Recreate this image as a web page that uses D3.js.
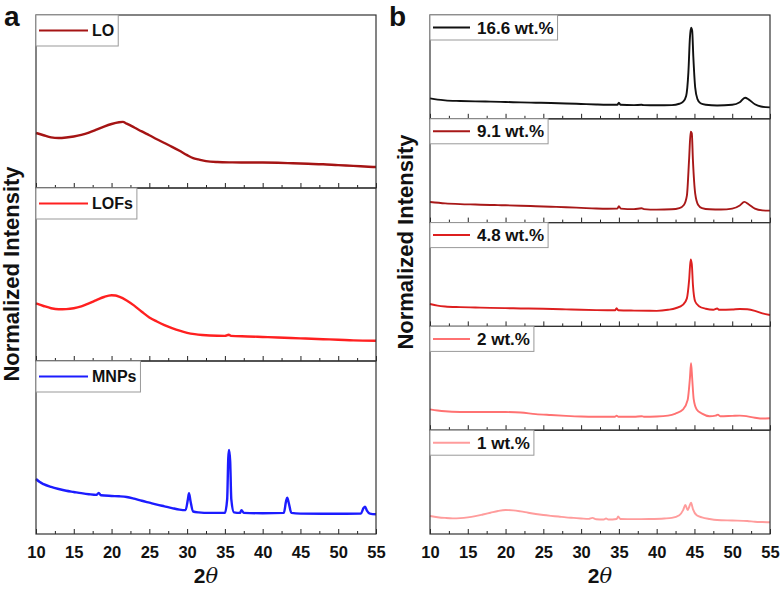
<!DOCTYPE html>
<html>
<head>
<meta charset="utf-8">
<script src="https://cdn.jsdelivr.net/npm/d3@7"></script>
<style>
  body { margin: 0; background: #fff; }
  text { font-family: "Liberation Sans", Arial, sans-serif; font-weight: bold; fill: #111; }
</style>
</head>
<body>
<svg id="chart" width="783" height="589"></svg>
<script>
// x ticks (2 theta)
var majorTicks = [10, 15, 20, 25, 30, 35, 40, 45, 50, 55];
var minorTicks = [12.5, 17.5, 22.5, 27.5, 32.5, 37.5, 42.5, 47.5, 52.5];

// ---- panel a ----
var tt_LO = [10,11,12,13,14,15,16,17,18,19,20,21,21.5,22,23,24,25,26,27,28,29,30,30.8,31.5,32.5,34,36,38,40,42,44,46,48,50,52,54,55];
var int_LO = [0.318,0.305,0.293,0.289,0.292,0.298,0.307,0.320,0.337,0.355,0.370,0.380,0.382,0.372,0.350,0.327,0.305,0.282,0.260,0.238,0.215,0.190,0.173,0.165,0.155,0.150,0.148,0.147,0.147,0.146,0.143,0.140,0.137,0.132,0.128,0.123,0.121];

var tt_LOFs = [10,11,12,13,14,15,16,17,18,19,20,20.5,21,22,23,24,25,26,27,28,29,30,31,32,33,35,35.5,35.8,38,40,42,45,48,50,52,55];
var int_LOFs = [0.333,0.318,0.305,0.299,0.300,0.305,0.316,0.333,0.352,0.370,0.380,0.379,0.372,0.350,0.320,0.285,0.252,0.228,0.207,0.190,0.175,0.163,0.155,0.150,0.147,0.145,0.152,0.145,0.142,0.139,0.136,0.131,0.126,0.123,0.119,0.117];

var tt_MNPs = [10,10.5,11,12,13,14,15,16,17,18,18.3,18.6,20,21,22,23,24,25,26,27,28,29,29.8,30.1,30.25,30.45,30.8,31.5,33,35,35.3,35.45,35.55,35.7,35.85,36.2,37,37.2,37.5,40,42.8,43.1,43.25,43.45,43.8,45,48,50,53,53.35,53.55,53.8,54.2,55];
var int_MNPs = [0.318,0.300,0.288,0.272,0.260,0.250,0.243,0.236,0.230,0.226,0.238,0.224,0.220,0.218,0.214,0.204,0.192,0.181,0.170,0.160,0.150,0.141,0.138,0.200,0.236,0.190,0.130,0.125,0.122,0.122,0.200,0.440,0.486,0.420,0.200,0.125,0.122,0.138,0.122,0.120,0.122,0.190,0.210,0.180,0.122,0.118,0.117,0.117,0.118,0.150,0.158,0.135,0.118,0.114];

// ---- panel b ----
var tt_w166 = [10,11,12,14,16,18,20,22,24,26,28,30,32,33.5,34.8,35,35.2,37,38,38.3,40,42,43,43.5,43.9,44.2,44.4,44.55,44.7,44.85,45.1,45.4,45.8,46.5,48,50,51,51.7,52.2,53,53.8,55];
var int_w166 = [0.197,0.185,0.178,0.172,0.168,0.165,0.162,0.158,0.155,0.152,0.148,0.143,0.138,0.136,0.136,0.155,0.136,0.132,0.135,0.132,0.130,0.132,0.145,0.165,0.220,0.450,0.780,0.878,0.850,0.600,0.300,0.190,0.150,0.135,0.128,0.135,0.160,0.203,0.185,0.140,0.118,0.110];

var tt_w91 = [10,12,14,16,18,20,22,24,26,28,30,32,33.5,34.8,35,35.25,37,38,38.3,40,42,43,43.6,44,44.3,44.5,44.65,44.8,45.1,45.5,46,47,48.5,50,51,51.6,52.2,53,54,55];
var int_w91 = [0.198,0.185,0.178,0.174,0.170,0.167,0.163,0.158,0.153,0.148,0.142,0.136,0.134,0.135,0.158,0.135,0.130,0.138,0.130,0.125,0.128,0.140,0.170,0.260,0.620,0.876,0.860,0.600,0.280,0.170,0.140,0.128,0.126,0.135,0.165,0.200,0.175,0.135,0.118,0.115];

var tt_w48 = [10,11,12,14,16,18,20,22,25,28,30,32,34.5,34.7,34.9,37,40,41.5,42.5,43.5,44,44.3,44.5,44.65,44.8,45.1,45.6,46.5,47.5,48,48.3,50,51,52,53,54,55];
var int_w48 = [0.216,0.200,0.192,0.186,0.182,0.178,0.176,0.173,0.170,0.164,0.160,0.157,0.155,0.175,0.156,0.152,0.150,0.160,0.175,0.210,0.270,0.450,0.646,0.600,0.400,0.240,0.195,0.170,0.160,0.172,0.160,0.163,0.168,0.165,0.150,0.125,0.110];

var tt_w2 = [10,11,12,14,16,18,20,22,24,26,28,30,32,34.5,34.7,34.9,37,38,38.3,40,41.5,42.5,43.5,44.1,44.4,44.55,44.7,44.9,45.3,46,47,47.8,48.1,48.4,50,51,51.5,53,54,55];
var int_w2 = [0.201,0.190,0.182,0.176,0.175,0.176,0.175,0.170,0.155,0.146,0.138,0.132,0.130,0.130,0.140,0.130,0.130,0.135,0.130,0.132,0.140,0.160,0.200,0.290,0.500,0.645,0.500,0.300,0.200,0.160,0.135,0.140,0.150,0.135,0.138,0.140,0.138,0.120,0.112,0.115];

var tt_w1 = [10,11,12,13,14,15,16,17,18,19,20,21,22,23,24,25,26,27,28,29,30,31,31.5,32,33,33.3,33.6,34.7,34.9,35.2,37,39,41,42,43,43.5,43.8,44.1,44.3,44.55,44.8,45.3,46,47,48,50,52,53,54,55];
var int_w1 = [0.173,0.162,0.155,0.151,0.153,0.160,0.172,0.188,0.205,0.222,0.231,0.228,0.218,0.205,0.193,0.183,0.175,0.168,0.160,0.155,0.150,0.146,0.155,0.142,0.140,0.150,0.140,0.145,0.168,0.145,0.143,0.145,0.150,0.155,0.180,0.230,0.279,0.230,0.260,0.302,0.240,0.180,0.160,0.145,0.135,0.130,0.125,0.118,0.115,0.113];

var svg = d3.select("#chart");

function drawPanel(p) {
  var x = d3.scaleLinear().domain([10, 55]).range([p.left, p.right]);
  var rowH = (p.bottom - p.top) / p.series.length;

  p.series.forEach(function(s, i) {
    var y0 = p.top + i * rowH, y1 = y0 + rowH;
    var y = d3.scaleLinear().domain([0, 1]).range([y1, y0]);
    var g = svg.append("g");
    var last = i == p.series.length - 1;

    // ticks pointing in
    g.append("g")
      .attr("transform", "translate(0," + y1 + ")")
      .call(d3.axisBottom(x).tickValues(majorTicks).tickSize(-5).tickPadding(12)
        .tickFormat(last ? d3.format("d") : ""))
      .call(a => a.select(".domain").remove())
      .call(a => a.selectAll("line").attr("stroke", "#222"))
      .call(a => a.selectAll("text").style("font-size", "16.5px").attr("fill", "#111"));
    g.append("g")
      .attr("transform", "translate(0," + y1 + ")")
      .call(d3.axisBottom(x).tickValues(minorTicks).tickSize(-3).tickFormat(""))
      .call(a => a.select(".domain").remove())
      .call(a => a.selectAll("line").attr("stroke", "#222"));

    var pts = s.x.map((d, k) => [d, s.y[k]]);
    g.append("path")
      .datum(pts)
      .attr("fill", "none")
      .attr("stroke", s.color)
      .attr("stroke-width", p.lineW)
      .attr("stroke-linejoin", "round")
      .attr("d", d3.line().x(d => x(d[0])).y(d => y(d[1])).curve(d3.curveMonotoneX));

    g.append("rect")
      .attr("x", p.left).attr("y", y0)
      .attr("width", p.right - p.left).attr("height", rowH)
      .attr("fill", "none").attr("stroke", "#333").attr("stroke-width", 1.2);

    // legend box
    var lg = g.append("g").attr("transform", "translate(" + p.left + "," + y0 + ")");
    var box = lg.append("rect").attr("fill", "#fff").attr("stroke", "#999").attr("stroke-width", 1);
    lg.append("line")
      .attr("x1", 3).attr("x2", p.legLine)
      .attr("y1", p.legH / 2).attr("y2", p.legH / 2)
      .attr("stroke", s.color).attr("stroke-width", 2);
    var t = lg.append("text")
      .attr("x", p.legText).attr("y", p.legH / 2 + p.legFont * 0.36)
      .style("font-size", p.legFont + "px")
      .text(s.name);
    var w = p.legText + t.node().getComputedTextLength() + 4;
    box.attr("x", 0).attr("y", 0).attr("width", w).attr("height", p.legH);
  });

  svg.append("text")
    .attr("transform", "translate(" + p.ylabX + "," + p.ylabY + ") rotate(-90)")
    .attr("text-anchor", "middle")
    .style("font-size", "22px")
    .text("Normalized Intensity");

  var xt = svg.append("text")
    .attr("x", (p.left + p.right) / 2).attr("y", 583)
    .attr("text-anchor", "middle")
    .style("font-size", "21px");
  xt.append("tspan").text("2");
  xt.append("tspan").style("font-style", "italic").style("font-weight", "normal")
    .style("font-family", "'DejaVu Serif', serif").text("θ");

  svg.append("text")
    .attr("x", p.tagX).attr("y", 26)
    .style("font-size", "28px")
    .text(p.tag);
}

drawPanel({
  left: 36, right: 376, top: 15, bottom: 534,
  lineW: 2.4, legH: 31, legLine: 52, legText: 56, legFont: 16,
  ylabX: 19, ylabY: 274, tag: "a", tagX: 4,
  series: [
    { name: "LO", x: tt_LO, y: int_LO, color: "#a51414" },
    { name: "LOFs", x: tt_LOFs, y: int_LOFs, color: "#ff2020" },
    { name: "MNPs", x: tt_MNPs, y: int_MNPs, color: "#1c1cff" }
  ]
});

drawPanel({
  left: 430, right: 770, top: 15, bottom: 534,
  lineW: 1.9, legH: 25, legLine: 40, legText: 47, legFont: 17,
  ylabX: 413, ylabY: 242, tag: "b", tagX: 389,
  series: [
    { name: "16.6 wt.%", x: tt_w166, y: int_w166, color: "#111111" },
    { name: "9.1 wt.%", x: tt_w91, y: int_w91, color: "#a81818" },
    { name: "4.8 wt.%", x: tt_w48, y: int_w48, color: "#dd1f1f" },
    { name: "2 wt.%", x: tt_w2, y: int_w2, color: "#ff7272" },
    { name: "1 wt.%", x: tt_w1, y: int_w1, color: "#ff9c9c" }
  ]
});
</script>
</body>
</html>
